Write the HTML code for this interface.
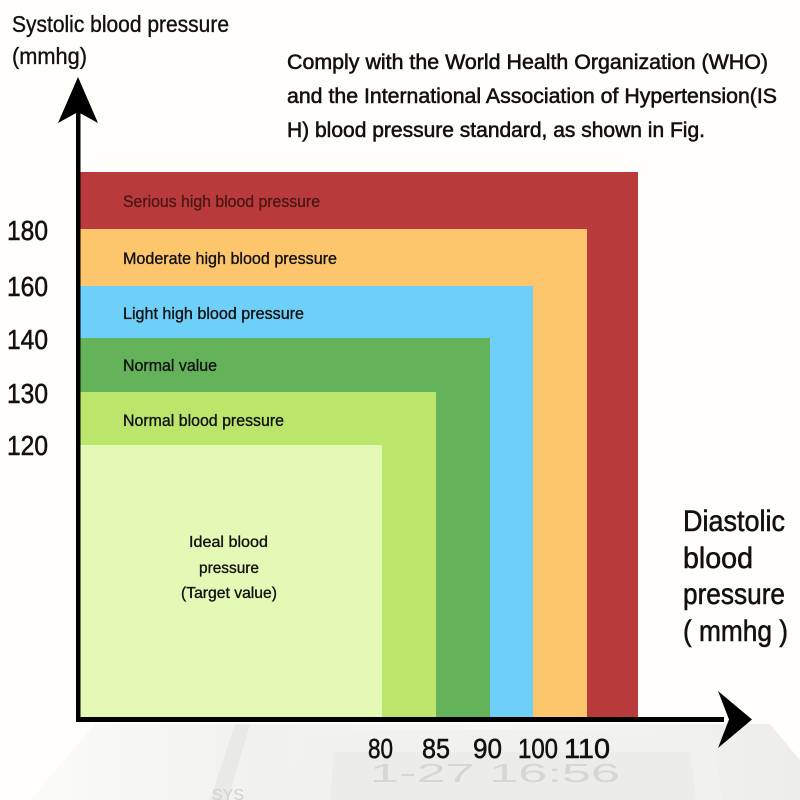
<!DOCTYPE html>
<html>
<head>
<meta charset="utf-8">
<style>
  html,body{margin:0;padding:0;background:#fffefb;}
  svg{display:block;}
  text{font-family:"Liberation Sans",sans-serif;}
  .b{stroke:#111;stroke-width:0.55;}
  .s{stroke:#111;stroke-width:0.35;}
</style>
</head>
<body>
<svg width="800" height="800" viewBox="0 0 800 800" xmlns="http://www.w3.org/2000/svg">
  <defs>
    <linearGradient id="dev2" x1="0" y1="0" x2="1" y2="0">
      <stop offset="0" stop-color="#fbfbfa"/>
      <stop offset="0.3" stop-color="#efefed"/>
      <stop offset="0.6" stop-color="#f5f5f3"/>
      <stop offset="1" stop-color="#ebebea"/>
    </linearGradient>
  </defs>
  <rect x="0" y="0" width="800" height="800" fill="#fffefb"/>

  <!-- faint device background at bottom -->
  <path d="M30 800 L95 724 L770 724 L800 760 L800 800 Z" fill="url(#dev2)" opacity="0.9"/>
  <path d="M210 800 L235 724 L250 724 L228 800 Z" fill="#e6e6e4" opacity="0.7"/>
  <path d="M290 800 L300 740 Q302 730 315 730 L700 730 Q712 730 714 742 L722 800 Z" fill="#f1f1ef"/>
  <path d="M330 800 L334 752 L690 752 L696 800 Z" fill="#ececea"/>
  <text x="370" y="782" font-size="26" fill="#d6d6d4" textLength="250" lengthAdjust="spacingAndGlyphs">1-27 16:56</text>
  <text x="212" y="800" font-size="16" fill="#d0d0ce">SYS</text>

  <!-- coloured regions -->
  <rect x="80" y="172" width="558" height="545" fill="#b93a3b"/>
  <rect x="80" y="229" width="507" height="488" fill="#fec66c"/>
  <rect x="80" y="286" width="453" height="431" fill="#6ecff9"/>
  <rect x="80" y="338" width="410" height="379" fill="#64b35a"/>
  <rect x="80" y="392" width="356" height="325" fill="#bbe66b"/>
  <rect x="80" y="445" width="302" height="272" fill="#e5f9b6"/>

  <!-- axes -->
  <rect x="76" y="108" width="4.5" height="614" fill="#000"/>
  <rect x="76" y="717" width="648" height="5" fill="#000"/>
  <path d="M78 77 L98 123 L78 112 L58 123 Z" fill="#000"/>
  <path d="M752 719.5 L718 748 L729 719.5 L718 691 Z" fill="#000"/>

  <!-- titles -->
  <text class="s" x="12" y="32" font-size="23" fill="#111" textLength="217" lengthAdjust="spacingAndGlyphs">Systolic blood pressure</text>
  <text class="s" x="12" y="64" font-size="23" fill="#111" textLength="75" lengthAdjust="spacingAndGlyphs">(mmhg)</text>

  <text class="b" x="287" y="69" font-size="21" fill="#111" textLength="481" lengthAdjust="spacingAndGlyphs">Comply with the World Health Organization (WHO)</text>
  <text class="b" x="287" y="103" font-size="21" fill="#111" textLength="490" lengthAdjust="spacingAndGlyphs">and the International Association of Hypertension(IS</text>
  <text class="b" x="287" y="137" font-size="21" fill="#111" textLength="418" lengthAdjust="spacingAndGlyphs">H) blood pressure standard, as shown in Fig.</text>

  <!-- band labels -->
  <text x="123" y="207" font-size="17" fill="#4a1616" stroke="#4a1616" stroke-width="0.3" textLength="197" lengthAdjust="spacingAndGlyphs">Serious high blood pressure</text>
  <text class="s" x="123" y="264" font-size="17" fill="#111" textLength="214" lengthAdjust="spacingAndGlyphs">Moderate high blood pressure</text>
  <text class="s" x="123" y="319" font-size="17" fill="#111" textLength="181" lengthAdjust="spacingAndGlyphs">Light high blood pressure</text>
  <text class="s" x="123" y="371" font-size="17" fill="#111" textLength="94" lengthAdjust="spacingAndGlyphs">Normal value</text>
  <text class="s" x="123" y="426" font-size="17" fill="#111" textLength="161" lengthAdjust="spacingAndGlyphs">Normal blood pressure</text>

  <text class="s" x="189" y="547" font-size="16" fill="#111" textLength="79" lengthAdjust="spacingAndGlyphs">Ideal blood</text>
  <text class="s" x="199" y="573" font-size="16" fill="#111" textLength="60" lengthAdjust="spacingAndGlyphs">pressure</text>
  <text class="s" x="181" y="598" font-size="16" fill="#111" textLength="96" lengthAdjust="spacingAndGlyphs">(Target value)</text>

  <!-- y tick labels -->
  <text class="b" x="7" y="240" font-size="28" fill="#111" textLength="41" lengthAdjust="spacingAndGlyphs">180</text>
  <text class="b" x="7" y="296" font-size="28" fill="#111" textLength="41" lengthAdjust="spacingAndGlyphs">160</text>
  <text class="b" x="7" y="349" font-size="28" fill="#111" textLength="41" lengthAdjust="spacingAndGlyphs">140</text>
  <text class="b" x="7" y="403" font-size="28" fill="#111" textLength="41" lengthAdjust="spacingAndGlyphs">130</text>
  <text class="b" x="7" y="455" font-size="28" fill="#111" textLength="41" lengthAdjust="spacingAndGlyphs">120</text>

  <!-- x tick labels -->
  <text class="b" x="368" y="758" font-size="28" fill="#111" textLength="25" lengthAdjust="spacingAndGlyphs">80</text>
  <text class="b" x="422" y="758" font-size="28" fill="#111" textLength="28" lengthAdjust="spacingAndGlyphs">85</text>
  <text class="b" x="473" y="758" font-size="28" fill="#111" textLength="29" lengthAdjust="spacingAndGlyphs">90</text>
  <text class="b" x="518" y="758" font-size="28" fill="#111" textLength="40" lengthAdjust="spacingAndGlyphs">100</text>
  <text class="b" x="564" y="758" font-size="28" fill="#111" textLength="46" lengthAdjust="spacingAndGlyphs">110</text>

  <!-- diastolic label -->
  <text class="b" x="683" y="531" font-size="30" fill="#111" textLength="102" lengthAdjust="spacingAndGlyphs">Diastolic</text>
  <text class="b" x="683" y="568" font-size="30" fill="#111" textLength="70" lengthAdjust="spacingAndGlyphs">blood</text>
  <text class="b" x="683" y="604" font-size="30" fill="#111" textLength="102" lengthAdjust="spacingAndGlyphs">pressure</text>
  <text class="b" x="683" y="641" font-size="30" fill="#111" textLength="105" lengthAdjust="spacingAndGlyphs">( mmhg )</text>
</svg>
</body>
</html>
